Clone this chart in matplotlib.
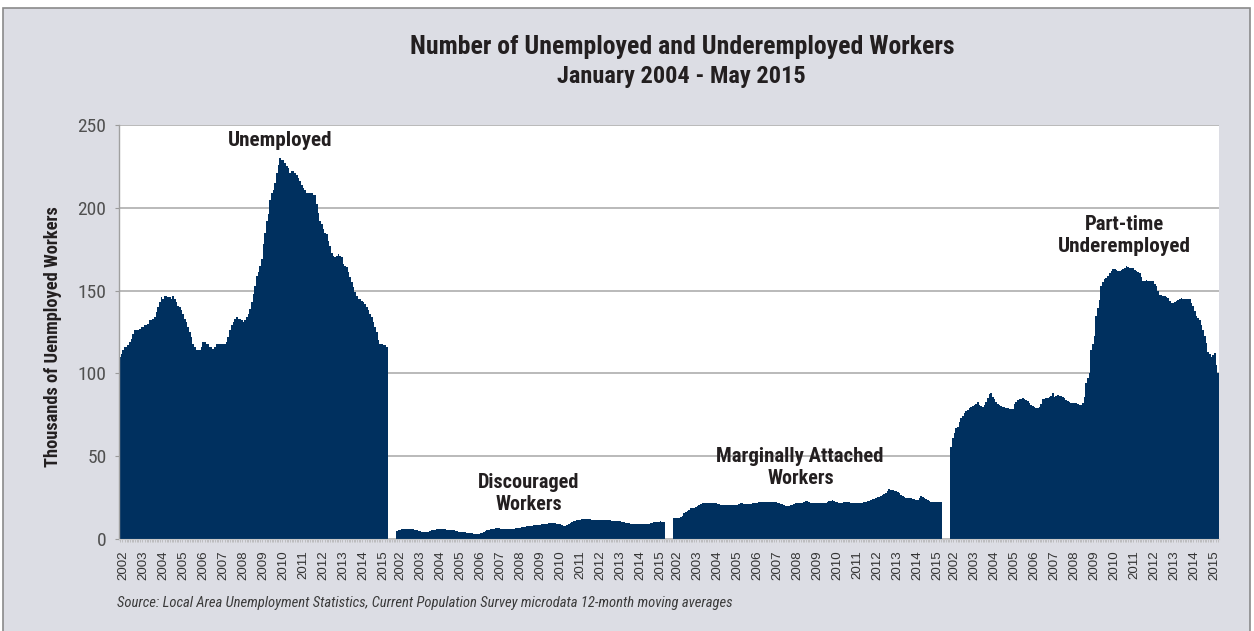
import matplotlib
matplotlib.use("Agg")
import matplotlib.pyplot as plt
import matplotlib.font_manager as fm
from matplotlib.patches import Rectangle
import numpy as np

# ---------------- data (thousands, 12-month moving averages) ----------------
years = [str(y) for y in range(2002, 2016)]

unemployed = [
    110, 112, 114, 116, 116, 117, 119, 121, 124, 126,
    126, 126, 127, 128, 128, 129, 129, 130, 132, 132,
    133, 134, 137, 140, 143, 146, 145, 147, 147, 146,
    146, 145, 147, 145, 143, 141, 140, 138, 136, 133,
    131, 128, 125, 122, 118, 116, 114, 114, 114, 116,
    119, 119, 118, 118, 116, 116, 115, 116, 118, 118,
    118, 118, 118, 118, 119, 122, 126, 129, 131, 133,
    134, 133, 133, 132, 131, 132, 134, 136, 139, 143,
    148, 153, 159, 161, 165, 169, 178, 185, 192, 196,
    205, 209, 211, 215, 221, 226, 230, 229, 229, 227,
    225, 224, 221, 222, 222, 221, 220, 218, 216, 214,
    212, 211, 209, 209, 209, 209, 208, 208, 202, 197,
    192, 190, 187, 185, 184, 180, 177, 173, 171, 170,
    171, 172, 171, 170, 166, 165, 164, 161, 158, 155,
    152, 149, 147, 145, 145, 144, 143, 142, 140, 138,
    136, 134, 131, 128, 125, 120, 118, 118, 117, 117, 116,
]

discouraged = [
    5.0, 5.4, 5.6, 5.8, 6.0, 6.0, 6.0, 6.0, 6.0, 5.9,
    5.8, 5.6, 5.2, 5.0, 4.7, 4.4, 4.3, 4.4, 4.3, 4.5,
    4.8, 5.2, 5.4, 5.6, 5.8, 5.8, 6.0, 5.8, 5.8, 5.8,
    5.7, 5.6, 5.5, 5.4, 5.2, 5.0, 4.6, 4.4, 4.3, 4.2,
    4.1, 4.0, 3.8, 3.7, 3.6, 3.4, 3.2, 2.9, 2.8, 3.0,
    3.4, 3.8, 4.3, 4.8, 5.2, 5.6, 5.8, 6.0, 6.2, 6.4,
    6.4, 6.4, 6.2, 6.0, 5.8, 5.8, 5.8, 5.9, 6.0, 6.0,
    6.2, 6.4, 6.4, 6.5, 6.8, 7.2, 7.4, 7.5, 7.8, 8.0,
    8.0, 8.0, 8.2, 8.4, 8.5, 8.5, 8.7, 8.9, 9.0, 9.1,
    9.3, 9.4, 9.5, 9.5, 9.5, 9.4, 9.3, 9.1, 8.8, 8.4,
    8.0, 7.9, 8.2, 8.8, 9.5, 10.1, 10.6, 11.0, 11.3, 11.5,
    11.7, 11.8, 11.9, 11.9, 11.9, 11.8, 11.8, 11.7, 11.7, 11.6,
    11.6, 11.5, 11.5, 11.5, 11.5, 11.5, 11.4, 11.3, 11.2, 11.1,
    11.0, 11.0, 10.9, 10.9, 10.6, 10.3, 10.0, 9.9, 9.6, 9.4,
    9.2, 9.1, 9.0, 8.9, 8.9, 8.9, 8.9, 8.9, 8.9, 8.9,
    9.0, 9.2, 9.5, 9.8, 10.2, 10.5, 10.3, 10.5, 10.6, 10.4, 10.5,
]

marginally_attached = [
    12.5, 12.5, 12.6, 12.8, 13.1, 14.0, 15.5, 16.3, 17.1, 17.8,
    18.5, 18.8, 19.0, 19.1, 19.8, 20.5, 21.0, 21.5, 21.7, 21.9,
    21.9, 21.9, 21.9, 21.8, 21.7, 21.5, 21.2, 21.0, 20.8, 20.7,
    20.6, 20.4, 20.3, 20.3, 20.4, 20.6, 20.5, 20.5, 20.8, 21.2,
    21.5, 21.5, 21.2, 21.0, 20.9, 20.9, 21.2, 21.5, 21.5, 21.5,
    21.8, 22.2, 22.5, 22.5, 22.5, 22.4, 22.3, 22.3, 22.3, 22.3,
    22.3, 22.3, 22.0, 21.5, 21.2, 20.9, 20.5, 20.2, 20.1, 20.1,
    20.4, 20.8, 21.2, 21.5, 21.7, 21.9, 21.9, 21.9, 22.3, 22.8,
    23.1, 22.6, 22.0, 21.5, 21.5, 21.7, 21.9, 21.9, 21.9, 21.9,
    21.9, 21.9, 22.2, 22.8, 23.2, 23.5, 23.2, 22.6, 22.1, 22.0,
    21.9, 21.9, 22.2, 22.5, 22.5, 22.2, 21.8, 21.5, 21.5, 21.5,
    21.5, 21.5, 21.7, 22.0, 22.3, 22.5, 22.8, 23.2, 23.6, 23.9,
    24.3, 24.7, 25.1, 25.5, 26.0, 26.5, 27.1, 28.0, 29.0, 30.0,
    29.7, 29.5, 29.2, 28.8, 28.2, 27.6, 26.8, 26.0, 25.1, 24.8,
    24.6, 24.5, 24.5, 24.2, 23.9, 23.6, 23.5, 24.5, 26.0, 25.2,
    24.5, 23.9, 23.3, 22.8, 22.5, 22.5, 22.5, 22.5, 22.5, 22.5, 22.5,
]

part_time = [
    55.8, 60.8, 64.2, 66.8, 67.9, 70.9, 73.0, 74.5, 75.9, 77.0,
    77.9, 78.9, 79.9, 80.4, 80.9, 81.8, 82.9, 80.9, 80.5, 79.9,
    81.0, 82.9, 85.0, 87.6, 88.4, 86.0, 84.5, 82.9, 81.8, 80.9,
    80.4, 79.9, 79.5, 79.2, 78.9, 78.6, 78.3, 78.3, 81.5, 82.8,
    83.9, 84.3, 84.6, 84.9, 84.6, 84.1, 83.5, 82.2, 80.9, 80.4,
    79.9, 79.4, 78.9, 80.0, 81.5, 84.3, 84.5, 84.9, 85.3, 85.9,
    86.5, 88.4, 85.9, 86.5, 87.0, 86.5, 86.2, 85.9, 84.9, 83.9,
    83.4, 82.9, 82.4, 81.9, 82.1, 82.3, 81.6, 80.9, 81.2, 81.9,
    85.9, 94.0, 97.0, 100.0, 114.0, 118.0, 122.3, 134.4, 139.5, 144.5,
    152.6, 155.0, 157.0, 157.8, 158.6, 160.6, 161.8, 163.0, 162.8, 162.6,
    162.0, 161.6, 162.3, 163.0, 163.8, 164.6, 164.0, 163.6, 163.6, 163.6,
    162.6, 161.6, 161.1, 160.6, 158.0, 155.5, 155.8, 156.1, 155.8, 155.5,
    155.5, 155.5, 154.0, 152.6, 150.0, 147.5, 147.2, 146.8, 146.5, 146.0,
    145.5, 144.0, 142.5, 142.7, 142.9, 143.7, 144.5, 145.0, 145.5, 145.2,
    144.9, 144.9, 144.9, 144.9, 142.7, 140.5, 137.5, 134.4, 133.4, 132.4,
    129.4, 126.4, 122.4, 118.3, 113.2, 111.7, 110.2, 111.2, 112.2, 105.2, 100.1,
]

series = [unemployed, discouraged, marginally_attached, part_time]
series_labels = ["Unemployed", "Discouraged\nWorkers",
                 "Marginally Attached\nWorkers", "Part-time\nUnderemployed"]

# ---------------- fonts ----------------
entries = fm.fontManager.ttflist
names = {f.name for f in entries}
cond_names = {f.name for f in entries
              if str(f.stretch) in ("condensed", "semi-condensed", "extra-condensed", "ultra-condensed", "narrow")
              or "Narrow" in f.name or "Condensed" in f.name}
COND, STRETCH = "DejaVu Sans", "normal"
for cand in ["Liberation Sans Narrow", "Roboto Condensed", "Open Sans Condensed",
             "Noto Sans Condensed", "DejaVu Sans Condensed", "Noto Sans", "DejaVu Sans",
             "Open Sans", "Roboto"]:
    if cand in cond_names:
        COND, STRETCH = cand, "condensed"
        break
REG = "Liberation Sans" if "Liberation Sans" in names else "DejaVu Sans"

W, H = 1254, 631
NAVY = "#00305f"
TXT = "#231f20"
PANEL = "#dcdde4"
GRID = "#b4b4b4"

fig = plt.figure(figsize=(W / 100, H / 100), dpi=100, facecolor="white")
fig.patches.append(Rectangle((3 / W, -0.02), (1250 - 3) / W, 1.02 - 8 / H,
                             transform=fig.transFigure, facecolor=PANEL,
                             edgecolor="#8a8a8a", linewidth=1.2, zorder=-10))

L, R, T, B = 119, 1219, 125, 539
ax = fig.add_axes([L / W, 1 - B / H, (R - L) / W, (B - T) / H])
ax.set_zorder(1)
ax.set_facecolor("white")

n = len(unemployed)
gap = 5
for g, vals in enumerate(series):
    xs = np.arange(len(vals)) + g * (n + gap)
    ax.bar(xs, vals, width=1.0, color=NAVY, linewidth=0, antialiased=False, zorder=2)

total = 4 * n + 3 * gap
ax.set_xlim(-0.5, total - 0.5)
ax.set_ylim(0, 250)
ax.set_yticks(range(0, 251, 50))
ax.yaxis.grid(True, color=GRID, linewidth=1.3, zorder=0)
ax.set_axisbelow(True)

tick_pos, tick_lab = [], []
for g in range(4):
    for k, y in enumerate(years):
        tick_pos.append(g * (n + gap) + 2 + 12 * k)
        tick_lab.append(y)
ax.set_xticks(tick_pos)
ax.set_xticklabels(tick_lab, rotation=90, fontsize=9.6, family=REG, color="#333333")
ax.set_xticks(np.arange(0, total), minor=True)
ax.tick_params(axis="x", which="major", length=0, pad=8)
ax.tick_params(axis="x", which="minor", length=2.5, width=0.5, color="#b0b0b0")

ax.tick_params(axis="y", length=3, width=0.8, color="#9a9a9a", pad=6)
for lab in ax.get_yticklabels():
    lab.set_family(COND)
    lab.set_stretch(STRETCH)
    lab.set_fontsize(14)
    lab.set_color("#505050")

for s in ["top", "right"]:
    ax.spines[s].set_visible(False)
ax.spines["left"].set_color("#a0a0a0")
ax.spines["bottom"].set_color("#c8c8c8")
ax.spines["left"].set_linewidth(1.0)


def fx(x):
    return x / W


def fy(y):
    return 1 - y / H


texts = []


def add(x, y, s, width_px, weight="bold", style="normal", rot=0, ha="center", fs=12, color=TXT):
    t = fig.text(fx(x), fy(y), s, ha=ha, va="center", fontsize=fs, family=COND,
                 stretch=STRETCH, weight=weight, style=style, rotation=rot, color=color,
                 zorder=5)
    texts.append((t, width_px, rot))
    return t


add(682, 47, "Number of Unemployed and Underemployed Workers", 545, fs=15)
add(681, 77, "January 2004 - May 2015", 250, fs=15)
add(53, 337, "Thousands of Uenmployed Workers", 260, rot=90, fs=13)
d1, d2 = series_labels[1].split("\n")
m1, m2 = series_labels[2].split("\n")
p1, p2 = series_labels[3].split("\n")
add(117, 603, "Source: Local Area Unemployment Statistics, Current Population Survey microdata 12-month moving averages",
    612, weight="normal", style="italic", ha="left", fs=11, color="#3a3a3a")


def addax(x, y, s, width_px, fs=13):
    t = ax.text(fx(x), fy(y), s, ha="center", va="center", fontsize=fs, family=COND,
                stretch=STRETCH, weight="bold", color=TXT, zorder=5,
                transform=fig.transFigure)
    texts.append((t, width_px, 0))


addax(280, 140, series_labels[0], 104)
addax(529, 483, d1, 101)
addax(529, 505, d2, 66)
addax(800, 456, m1, 167)
addax(801, 479, m2, 66)
addax(1124, 224, p1, 79)
addax(1124, 247, p2, 132)

fig.canvas.draw()
r = fig.canvas.get_renderer()
for t, wpx, rot in texts:
    bb = t.get_window_extent(r)
    cur = bb.height if rot == 90 else bb.width
    t.set_fontsize(t.get_fontsize() * wpx / cur)

fig.savefig("out.png", dpi=100, facecolor="white")
